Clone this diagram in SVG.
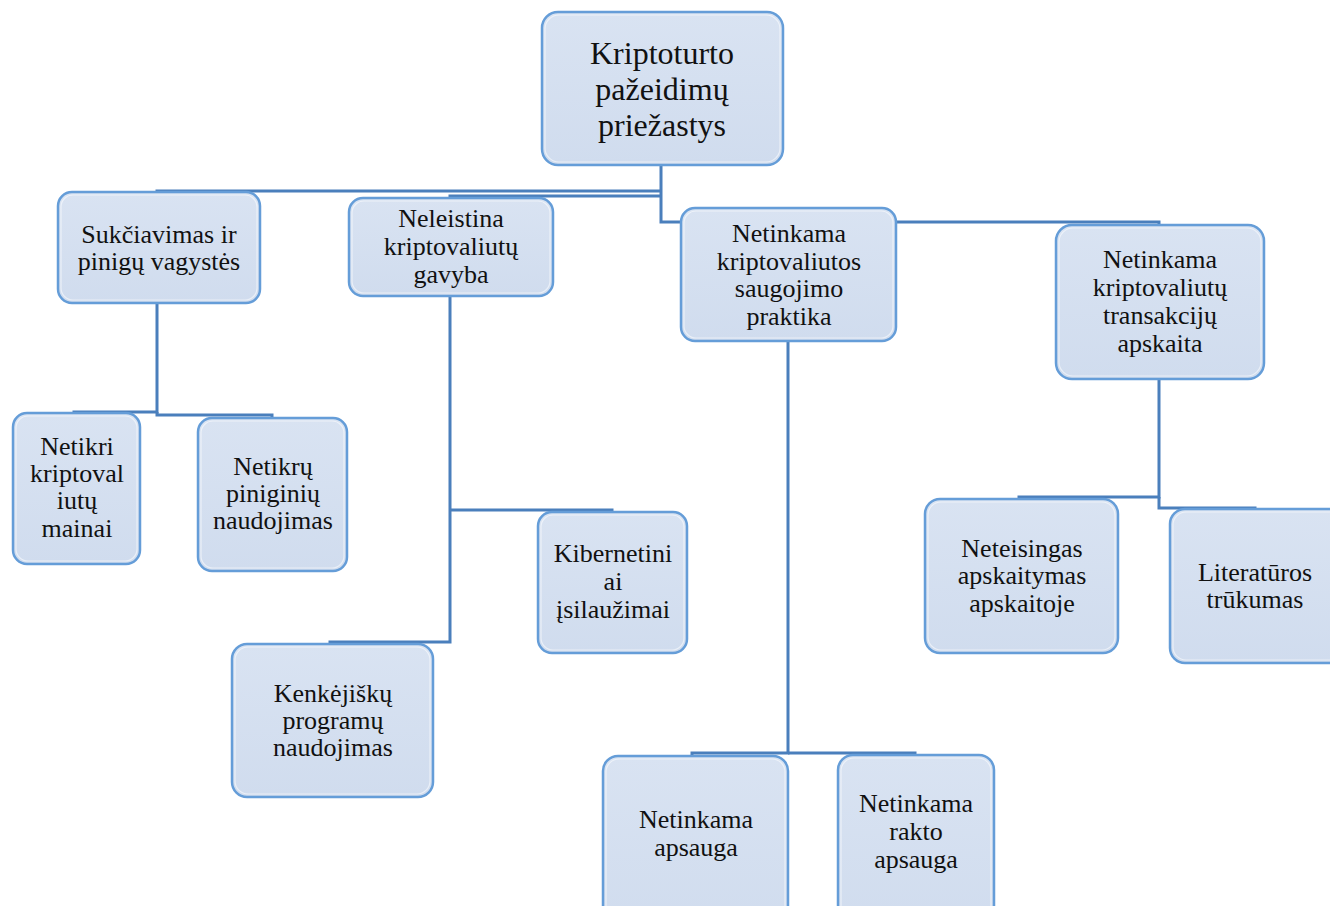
<svg xmlns="http://www.w3.org/2000/svg" width="1330" height="906" viewBox="0 0 1330 906">
  <defs>
    <linearGradient id="boxFill" x1="0" y1="0" x2="0" y2="1">
      <stop offset="0" stop-color="#d9e3f2"/>
      <stop offset="1" stop-color="#d0dcee"/>
    </linearGradient>
    <style>
      .box { fill: url(#boxFill); stroke: #659dd8; stroke-width: 2.5; }
      .hl { fill: none; stroke: #ffffff; stroke-opacity: 0.55; stroke-width: 1.2; }
      .lbl { font-family: "Liberation Serif", "Times New Roman", serif; font-size: 26px; fill: #111111; text-anchor: middle; }
      .root { font-size: 32px; }
      .conn { fill: none; stroke: #4a7fbc; stroke-width: 3; stroke-linejoin: miter; }
    </style>
  </defs>
  <rect width="1330" height="906" fill="#ffffff"/>

  <!-- connectors -->
  <g id="connectors" class="conn">
    <path d="M661 166 V222 H1159 V225"/>
    <path d="M661 191 H157 V193"/>
    <path d="M661 196 H450 V198"/>
    <path d="M157 304 V412 H74 V414"/>
    <path d="M157 412 V415 H272 V419"/>
    <path d="M450 296 V642 H330 V645"/>
    <path d="M450 510 H612 V513"/>
    <path d="M788 341 V753 H692 V757"/>
    <path d="M788 753 H915 V756"/>
    <path d="M1159 379 V497 H1019 V500"/>
    <path d="M1159 497 V508 H1255 V510"/>
  </g>

  <!-- root -->
  <g id="n-root">
    <rect class="box" x="542" y="12" width="241" height="153" rx="16"/>
    <rect class="hl" x="545" y="15" width="235" height="147" rx="14"/>
    <text class="lbl root" x="662"><tspan x="662" y="64">Kriptoturto</tspan><tspan x="662" y="100">pažeidimų</tspan><tspan x="662" y="136">priežastys</tspan></text>
  </g>

  <g id="n-sukciavimas">
    <rect class="box" x="58" y="192" width="202" height="111" rx="14"/>
    <rect class="hl" x="61" y="195" width="196" height="105" rx="12"/>
    <text class="lbl"><tspan x="159" y="243">Sukčiavimas ir</tspan><tspan x="159" y="270">pinigų vagystės</tspan></text>
  </g>

  <g id="n-neleistina">
    <rect class="box" x="349" y="198" width="204" height="98" rx="14"/>
    <rect class="hl" x="352" y="201" width="198" height="92" rx="12"/>
    <text class="lbl"><tspan x="451" y="227">Neleistina</tspan><tspan x="451" y="255">kriptovaliutų</tspan><tspan x="451" y="283">gavyba</tspan></text>
  </g>

  <g id="n-saugojimo">
    <rect class="box" x="681" y="208" width="215" height="133" rx="14"/>
    <rect class="hl" x="684" y="211" width="209" height="127" rx="12"/>
    <text class="lbl"><tspan x="789" y="242">Netinkama</tspan><tspan x="789" y="270">kriptovaliutos</tspan><tspan x="789" y="297">saugojimo</tspan><tspan x="789" y="325">praktika</tspan></text>
  </g>

  <g id="n-transakciju">
    <rect class="box" x="1056" y="225" width="208" height="154" rx="16"/>
    <rect class="hl" x="1059" y="228" width="202" height="148" rx="14"/>
    <text class="lbl"><tspan x="1160" y="268">Netinkama</tspan><tspan x="1160" y="296">kriptovaliutų</tspan><tspan x="1160" y="324">transakcijų</tspan><tspan x="1160" y="352">apskaita</tspan></text>
  </g>

  <g id="n-netikri-mainai">
    <rect class="box" x="13" y="413" width="127" height="151" rx="14"/>
    <rect class="hl" x="16" y="416" width="121" height="145" rx="12"/>
    <text class="lbl"><tspan x="77" y="455">Netikri</tspan><tspan x="77" y="482">kriptoval</tspan><tspan x="77" y="509">iutų</tspan><tspan x="77" y="537">mainai</tspan></text>
  </g>

  <g id="n-netikru-pinigines">
    <rect class="box" x="198" y="418" width="149" height="153" rx="14"/>
    <rect class="hl" x="201" y="421" width="143" height="147" rx="12"/>
    <text class="lbl"><tspan x="273" y="475">Netikrų</tspan><tspan x="273" y="502">piniginių</tspan><tspan x="273" y="529">naudojimas</tspan></text>
  </g>

  <g id="n-kibernetiniai">
    <rect class="box" x="538" y="512" width="149" height="141" rx="14"/>
    <rect class="hl" x="541" y="515" width="143" height="135" rx="12"/>
    <text class="lbl"><tspan x="613" y="562">Kibernetini</tspan><tspan x="613" y="590">ai</tspan><tspan x="613" y="618">įsilaužimai</tspan></text>
  </g>

  <g id="n-kenkejisku">
    <rect class="box" x="232" y="644" width="201" height="153" rx="15"/>
    <rect class="hl" x="235" y="647" width="195" height="147" rx="13"/>
    <text class="lbl"><tspan x="333" y="702">Kenkėjiškų</tspan><tspan x="333" y="729">programų</tspan><tspan x="333" y="756">naudojimas</tspan></text>
  </g>

  <g id="n-apsauga">
    <rect class="box" x="603" y="756" width="185" height="175" rx="15"/>
    <rect class="hl" x="606" y="759" width="179" height="169" rx="13"/>
    <text class="lbl"><tspan x="696" y="828">Netinkama</tspan><tspan x="696" y="856">apsauga</tspan></text>
  </g>

  <g id="n-rakto-apsauga">
    <rect class="box" x="838" y="755" width="156" height="176" rx="15"/>
    <rect class="hl" x="841" y="758" width="150" height="170" rx="13"/>
    <text class="lbl"><tspan x="916" y="812">Netinkama</tspan><tspan x="916" y="840">rakto</tspan><tspan x="916" y="868">apsauga</tspan></text>
  </g>

  <g id="n-neteisingas">
    <rect class="box" x="925" y="499" width="193" height="154" rx="15"/>
    <rect class="hl" x="928" y="502" width="187" height="148" rx="13"/>
    <text class="lbl"><tspan x="1022" y="557">Neteisingas</tspan><tspan x="1022" y="584">apskaitymas</tspan><tspan x="1022" y="612">apskaitoje</tspan></text>
  </g>

  <g id="n-literaturos">
    <rect class="box" x="1170" y="509" width="180" height="154" rx="15"/>
    <rect class="hl" x="1173" y="512" width="174" height="148" rx="13"/>
    <text class="lbl"><tspan x="1255" y="581">Literatūros</tspan><tspan x="1255" y="608">trūkumas</tspan></text>
  </g>
</svg>
